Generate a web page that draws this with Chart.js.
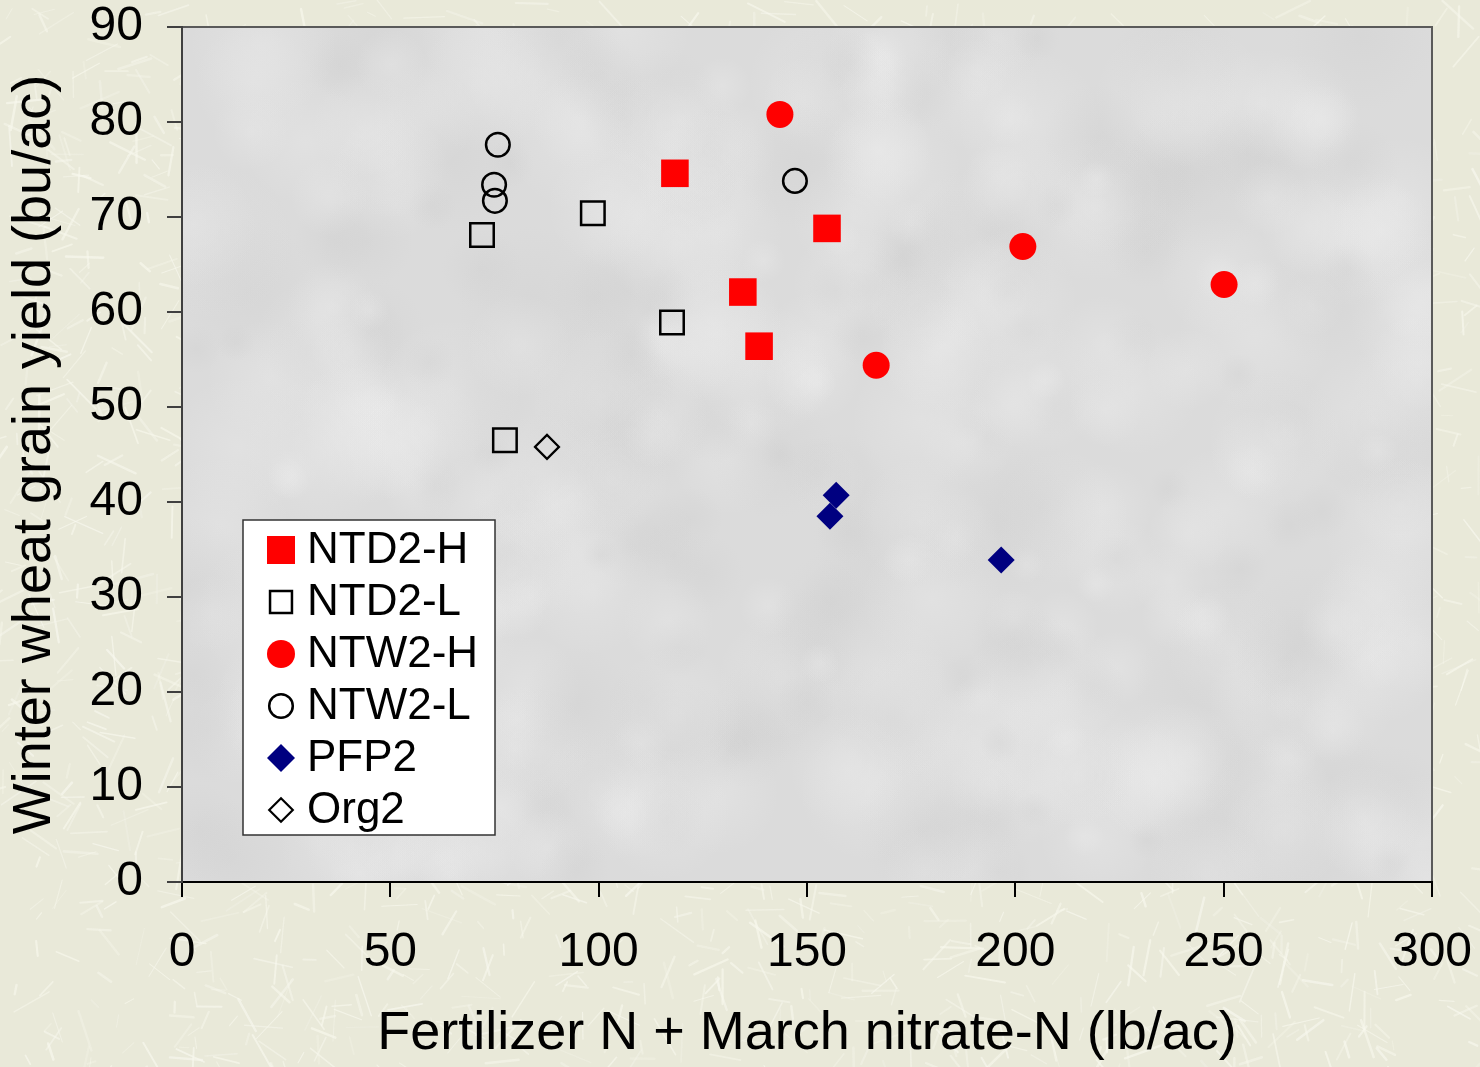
<!DOCTYPE html>
<html>
<head>
<meta charset="utf-8">
<title>Winter wheat grain yield vs. available N</title>
<script src="https://cdn.jsdelivr.net/npm/chart.js@4/dist/chart.umd.min.js"></script>
<style>
  html, body { margin: 0; padding: 0; background: #eaeadb; }
  #wrap { width: 1480px; height: 1067px; }
</style>
</head>
<body>
<div id="wrap"><canvas id="chart" width="1480" height="1067"></canvas></div>
<script>
// Fertilizer N + March nitrate-N (lb/ac) and grain yield (bu/ac) per treatment
const ntd2hN = [118.3, 154.8, 134.6, 138.5];
const ntd2hYield = [74.6, 68.8, 62.1, 56.4];

const ntd2lN = [72.0, 98.6, 117.6, 77.5];
const ntd2lYield = [68.1, 70.4, 58.9, 46.5];

const ntw2hN = [143.5, 201.8, 250.1, 166.6];
const ntw2hYield = [80.8, 66.9, 62.9, 54.4];

const ntw2lN = [75.8, 74.9, 75.1, 147.1];
const ntw2lYield = [77.6, 73.4, 71.7, 73.8];

const pfp2N = [157.0, 155.5, 196.6];
const pfp2Yield = [40.7, 38.5, 33.9];

const org2N = [87.6];
const org2Yield = [45.8];

const seriesLabels = ['NTD2-H', 'NTD2-L', 'NTW2-H', 'NTW2-L', 'PFP2', 'Org2'];

const xTicks = [0, 50, 100, 150, 200, 250, 300];
const yTicks = [0, 10, 20, 30, 40, 50, 60, 70, 80, 90];

const xTitle = 'Fertilizer N + March nitrate-N (lb/ac)';
const yTitle = 'Winter wheat grain yield (bu/ac)';

const FONT = "'Liberation Sans', Arial, Helvetica, sans-serif";
Chart.defaults.font.family = FONT;
Chart.defaults.color = '#000';

function pairs(xs, ys) {
  return xs.map((x, i) => ({ x: x, y: ys[i] }));
}

const RED = '#ff0000';
const NAVY = '#000080';

const datasets = [
  { label: seriesLabels[0], data: pairs(ntd2hN, ntd2hYield), pointStyle: 'rect',
    pointRadius: 19.5, backgroundColor: RED, borderColor: RED, borderWidth: 0 },
  { label: seriesLabels[1], data: pairs(ntd2lN, ntd2lYield), pointStyle: 'rect',
    pointRadius: 16.6, backgroundColor: 'rgba(0,0,0,0)', borderColor: '#000', borderWidth: 2.5 },
  { label: seriesLabels[2], data: pairs(ntw2hN, ntw2hYield), pointStyle: 'circle',
    pointRadius: 13.5, backgroundColor: RED, borderColor: RED, borderWidth: 0 },
  { label: seriesLabels[3], data: pairs(ntw2lN, ntw2lYield), pointStyle: 'circle',
    pointRadius: 11.8, backgroundColor: 'rgba(0,0,0,0)', borderColor: '#000', borderWidth: 2.5 },
  { label: seriesLabels[4], data: pairs(pfp2N, pfp2Yield), pointStyle: 'rectRot',
    pointRadius: 13.5, backgroundColor: NAVY, borderColor: NAVY, borderWidth: 0 },
  { label: seriesLabels[5], data: pairs(org2N, org2Yield), pointStyle: 'rectRot',
    pointRadius: 12, backgroundColor: 'rgba(0,0,0,0)', borderColor: '#000', borderWidth: 2.2 }
];
datasets.forEach(d => { d.pointHoverRadius = d.pointRadius; d.showLine = false; });

// Small deterministic generator for the decorative paper textures
function makeRng(seed) {
  let s = seed >>> 0;
  return () => {
    s = (s * 1664525 + 1013904223) >>> 0;
    return s / 4294967296;
  };
}

// Straw-flecked parchment for the page
function parchment(w, h) {
  const c = document.createElement('canvas');
  c.width = w; c.height = h;
  const g = c.getContext('2d');
  g.fillStyle = '#e9e9d9';
  g.fillRect(0, 0, w, h);
  const rnd = makeRng(7);
  g.lineCap = 'round';
  for (let i = 0; i < 2600; i++) {
    const x = rnd() * w, y = rnd() * h;
    const len = 8 + rnd() * 34, ang = rnd() * Math.PI;
    g.strokeStyle = 'rgba(248,248,238,' + (0.25 + rnd() * 0.45).toFixed(2) + ')';
    g.lineWidth = 1 + rnd() * 1.6;
    g.beginPath();
    g.moveTo(x, y);
    g.lineTo(x + Math.cos(ang) * len, y + Math.sin(ang) * len);
    g.stroke();
  }
  return c;
}

// Soft mottled grey for the plot area
function mottle(w, h) {
  const c = document.createElement('canvas');
  c.width = w; c.height = h;
  const g = c.getContext('2d');
  g.fillStyle = '#dbdbdb';
  g.fillRect(0, 0, w, h);
  const rnd = makeRng(19);
  for (let i = 0; i < 420; i++) {
    const x = rnd() * w, y = rnd() * h, r = 18 + rnd() * 60;
    const light = rnd() < 0.6;
    const grad = g.createRadialGradient(x, y, 0, x, y, r);
    grad.addColorStop(0, light ? 'rgba(236,236,236,0.35)' : 'rgba(200,200,200,0.22)');
    grad.addColorStop(1, light ? 'rgba(236,236,236,0)' : 'rgba(200,200,200,0)');
    g.fillStyle = grad;
    g.fillRect(x - r, y - r, 2 * r, 2 * r);
  }
  return c;
}

let pageTex = null, plotTex = null;

// Page and plot-area fills, plus the top and right frame lines
const backdrop = {
  id: 'backdrop',
  beforeDraw(chart) {
    const { ctx, chartArea: a, width, height } = chart;
    const pw = Math.round(a.right - a.left), ph = Math.round(a.bottom - a.top);
    if (!pageTex) pageTex = parchment(width, height);
    if (!plotTex || plotTex.width !== pw || plotTex.height !== ph) plotTex = mottle(pw, ph);
    ctx.save();
    ctx.drawImage(pageTex, 0, 0);
    ctx.drawImage(plotTex, a.left, a.top);
    ctx.strokeStyle = '#5a5a5a';
    ctx.lineWidth = 2;
    ctx.beginPath();
    ctx.moveTo(a.left, a.top);
    ctx.lineTo(a.right, a.top);
    ctx.lineTo(a.right, a.bottom);
    ctx.stroke();
    ctx.restore();
  }
};

// Boxed legend sitting inside the plot area
const boxLegend = {
  id: 'boxLegend',
  afterDatasetsDraw(chart) {
    const { ctx } = chart;
    const box = { x: 243, y: 520, w: 252, h: 315 };
    ctx.save();
    ctx.fillStyle = '#ffffff';
    ctx.fillRect(box.x, box.y, box.w, box.h);
    ctx.strokeStyle = '#333';
    ctx.lineWidth = 1.5;
    ctx.strokeRect(box.x, box.y, box.w, box.h);
    ctx.font = '44px ' + FONT;
    ctx.textBaseline = 'middle';
    ctx.textAlign = 'left';
    chart.data.datasets.forEach((ds, i) => {
      const cy = box.y + 30 + i * 52;
      const cx = box.x + 38;
      ctx.fillStyle = ds.backgroundColor;
      ctx.strokeStyle = ds.borderColor;
      ctx.lineWidth = ds.borderWidth;
      Chart.helpers.drawPoint(ctx, {
        pointStyle: ds.pointStyle,
        radius: ds.pointStyle === 'rect' ? (ds.borderWidth ? 15.5 : 19.8) : (ds.borderWidth ? 11.8 : 14),
        rotation: 0,
        borderWidth: ds.borderWidth
      }, cx, cy);
      ctx.fillStyle = '#000';
      ctx.fillText(ds.label, box.x + 64, cy + 1);
    });
    ctx.restore();
  }
};

new Chart(document.getElementById('chart'), {
  type: 'scatter',
  data: { datasets: datasets },
  options: {
    responsive: false,
    animation: false,
    events: [],
    layout: { padding: { left: 0, top: 27, right: 48, bottom: 0 } },
    plugins: {
      legend: { display: false },
      tooltip: { enabled: false }
    },
    scales: {
      x: {
        type: 'linear',
        min: 0, max: 300,
        afterBuildTicks(scale) { scale.ticks = xTicks.map(v => ({ value: v })); },
        afterFit(scale) {
          scale.height = 185;
          scale.paddingLeft = 0;
          scale.paddingRight = 0;
        },
        ticks: { font: { size: 48 }, color: '#000', padding: 27 },
        grid: { drawOnChartArea: false, drawTicks: true, tickLength: 15, color: '#000', lineWidth: 2 },
        border: { display: true, color: '#000', width: 2 },
        title: { display: true, text: xTitle, color: '#000', font: { size: 54 }, padding: { top: 0, bottom: 0 } }
      },
      y: {
        type: 'linear',
        min: 0, max: 90,
        afterBuildTicks(scale) { scale.ticks = yTicks.map(v => ({ value: v })); },
        afterFit(scale) {
          scale.width = 182;
          scale.paddingTop = 0;
          scale.paddingBottom = 0;
        },
        ticks: { font: { size: 48 }, color: '#000', padding: 24 },
        grid: { drawOnChartArea: false, drawTicks: true, tickLength: 15, color: '#404040', lineWidth: 2 },
        border: { display: true, color: '#404040', width: 2 },
        title: { display: true, text: yTitle, color: '#000', font: { size: 54 }, padding: { top: 3, bottom: 0 } }
      }
    }
  },
  plugins: [backdrop, boxLegend]
});
</script>
</body>
</html>
